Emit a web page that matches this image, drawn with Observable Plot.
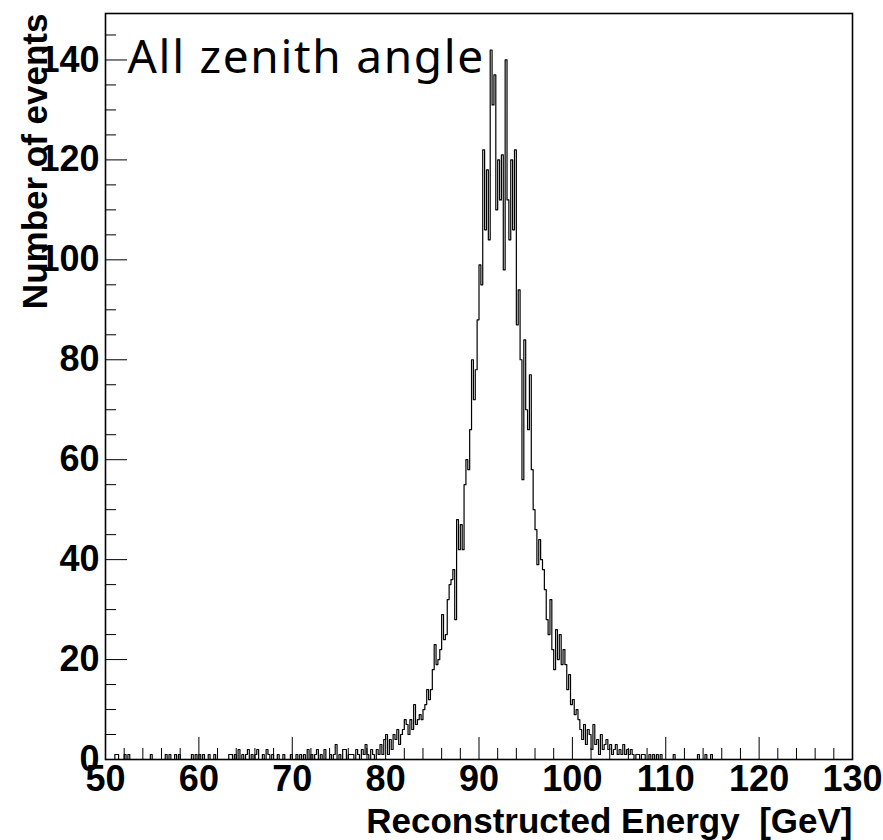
<!DOCTYPE html>
<html><head><meta charset="utf-8">
<script src="https://cdn.jsdelivr.net/npm/d3@7"></script>
<script src="https://cdn.jsdelivr.net/npm/@observablehq/plot@0.6"></script>
<style>
html,body{margin:0;padding:0;background:#fff;}
svg text{white-space:pre;}
</style></head><body><div id="chart"></div>
<script>
// ---- data ----
const xMin = 50, xMax = 130, binWidth = 0.2;
const denseStart = 78.0;
const denseCounts = [
  1, 0, 2, 1, 0,      // 78
  2, 1, 3, 1, 4,      // 79
  5, 1, 4, 2, 5,      // 80
  4, 6, 3, 5, 6,      // 81
  8, 7, 5, 8, 6,      // 82
  11, 7, 8, 9, 8,     // 83
  10, 11, 14, 12, 14, // 84
  18, 23, 19, 20, 22, // 85
  29, 24, 25, 32, 35, // 86
  36, 38, 28, 48, 42, // 87
  47, 42, 55, 60, 58, // 88
  66, 80, 72, 78, 88, // 89
  99, 95, 122, 106, 118, // 90
  104, 142, 131, 137, 110, // 91
  120, 112, 121, 98, 140, // 92
  112, 104, 120, 106, 122, // 93
  87, 94, 80, 56, 84, // 94
  70, 66, 77, 58, 50, // 95
  46, 39, 44, 40, 38, // 96
  34, 28, 25, 32, 22, // 97
  18, 26, 20, 25, 19, // 98
  22, 19, 14, 17, 11, // 99
  12, 9, 10, 8, 6,    // 100
  4, 7, 3, 6, 5,      // 101
  2, 7, 3, 4, 1,      // 102
  5, 2, 3, 4, 2,      // 103
  3, 1, 2, 3, 1,      // 104
  2, 1, 3, 1, 2,      // 105
  1, 2, 1, 0, 1,      // 106
  1, 0, 1, 1, 0       // 107
];
const tailLeftE = [51.0, 51.2, 52.0, 52.4, 54.8, 56.4, 56.8, 57.4, 57.8, 59.2, 59.6, 60.0, 60.4, 61.0, 61.6,
  63.2, 63.4, 63.8, 64.2, 64.6, 65.0, 65.2, 65.6, 66.0, 66.2, 66.8, 67.2, 67.4, 67.8, 68.4, 69.0, 69.8,
  70.4, 70.8, 71.2, 71.6, 72.0, 72.4, 72.6, 73.0, 73.4, 74.0, 74.4, 74.6, 75.0, 75.4, 75.6, 76.0, 76.2,
  76.4, 76.8, 77.0, 77.4, 77.6, 77.8];
const tailLeftN = [1, 1, 1, 1, 1, 1, 1, 1, 1, 1, 1, 1, 1, 1, 1,
  1, 1, 1, 2, 1, 1, 2, 1, 1, 2, 1, 2, 1, 1, 1, 1, 1,
  1, 1, 1, 2, 1, 1, 2, 1, 2, 1, 1, 3, 1, 2, 2, 1, 1,
  1, 2, 1, 2, 1, 3];
const tailRightE = [108.2, 108.6, 109.0, 109.4, 110.8, 113.4, 114.2, 114.8];
const tailRightN = [1, 1, 1, 1, 1, 1, 1, 1];

const xMajorTicks = [50, 60, 70, 80, 90, 100, 110, 120, 130];
const xMinorTicks = [52, 54, 56, 58, 62, 64, 66, 68, 72, 74, 76, 78, 82, 84, 86, 88, 92, 94, 96, 98,
  102, 104, 106, 108, 112, 114, 116, 118, 122, 124, 126, 128];
const yMajorTicks = [0, 20, 40, 60, 80, 100, 120, 140];
const yMinorTicks = [5, 10, 15, 25, 30, 35, 45, 50, 55, 65, 70, 75, 85, 90, 95, 105, 110, 115, 125, 130, 135, 145];
const yMax = 149.3;

const xTitle = "Reconstructed Energy  [GeV]";
const yTitle = "Number of events";
const label = "All zenith angle";

// ---- build histogram table ----
const nBins = Math.round((xMax - xMin) / binWidth);
const counts = new Array(nBins).fill(0);
const idx = e => Math.round((e - xMin) / binWidth);
denseCounts.forEach((c, i) => { counts[idx(denseStart) + i] = c; });
tailLeftE.forEach((e, i) => { counts[idx(e)] = tailLeftN[i]; });
tailRightE.forEach((e, i) => { counts[idx(e)] = tailRightN[i]; });
const steps = counts.map((c, i) => ({x: xMin + i * binWidth, y: c}));
steps.push({x: xMax, y: counts[nBins - 1]});

const W = 883, H = 840;
const mL = 105, mR = 31, mT = 13, mB = 81;
const pW = W - mL - mR, pH = H - mT - mB;
const font = "'Liberation Sans', Arial, Helvetica, sans-serif";
const narrow = "'Liberation Sans Narrow', 'Arial Narrow', 'Liberation Sans', sans-serif";

const chart = Plot.plot({
  width: W, height: H,
  marginLeft: mL, marginRight: mR, marginTop: mT, marginBottom: mB,
  x: {domain: [xMin, xMax]},
  y: {domain: [0, yMax]},
  style: {fontFamily: font, fontSize: "28px", fontWeight: "bold", color: "black", background: "white"},
  marks: [
    Plot.line(steps, {x: "x", y: "y", curve: "step-after", stroke: "black", strokeWidth: 1.2}),
    Plot.tickX(xMajorTicks, {x: d => d, insetTop: pH - 22, stroke: "black", strokeWidth: 1}),
    Plot.tickX(xMinorTicks, {x: d => d, insetTop: pH - 11, stroke: "black", strokeWidth: 1}),
    Plot.tickY(yMajorTicks, {y: d => d, insetRight: pW - 22, stroke: "black", strokeWidth: 1}),
    Plot.tickY(yMinorTicks, {y: d => d, insetRight: pW - 11, stroke: "black", strokeWidth: 1}),
    Plot.axisX(xMajorTicks, {tickSize: 0, tickPadding: 6, label: null, fontSize: 36, fontWeight: "bold", fontFamily: narrow}),
    Plot.axisY(yMajorTicks, {tickSize: 0, tickPadding: 6, label: null, fontSize: 36, fontWeight: "bold", fontFamily: narrow}),
    Plot.frame({stroke: "black", strokeWidth: 1.6}),
    Plot.text([xTitle], {frameAnchor: "bottom-right", dy: 62, text: d => d, textAnchor: "end", lineAnchor: "middle", fontSize: 35, fontWeight: "bold"}),
    Plot.text([yTitle], {frameAnchor: "top-left", dx: -70, text: d => d, rotate: -90, textAnchor: "end", lineAnchor: "middle", fontSize: 35, fontWeight: "bold"}),
    Plot.text([label], {frameAnchor: "top-left", dx: 22, dy: 45, text: d => d, textAnchor: "start", lineAnchor: "middle", fontSize: 46, fontWeight: "normal", fontFamily: "'Noto Sans', sans-serif"})
  ]
});
d3.select(chart).selectAll("text").filter(function() { return this.textContent === label; })
  .style("letter-spacing", "1.7px");
document.getElementById("chart").appendChild(chart);
</script></body></html>
